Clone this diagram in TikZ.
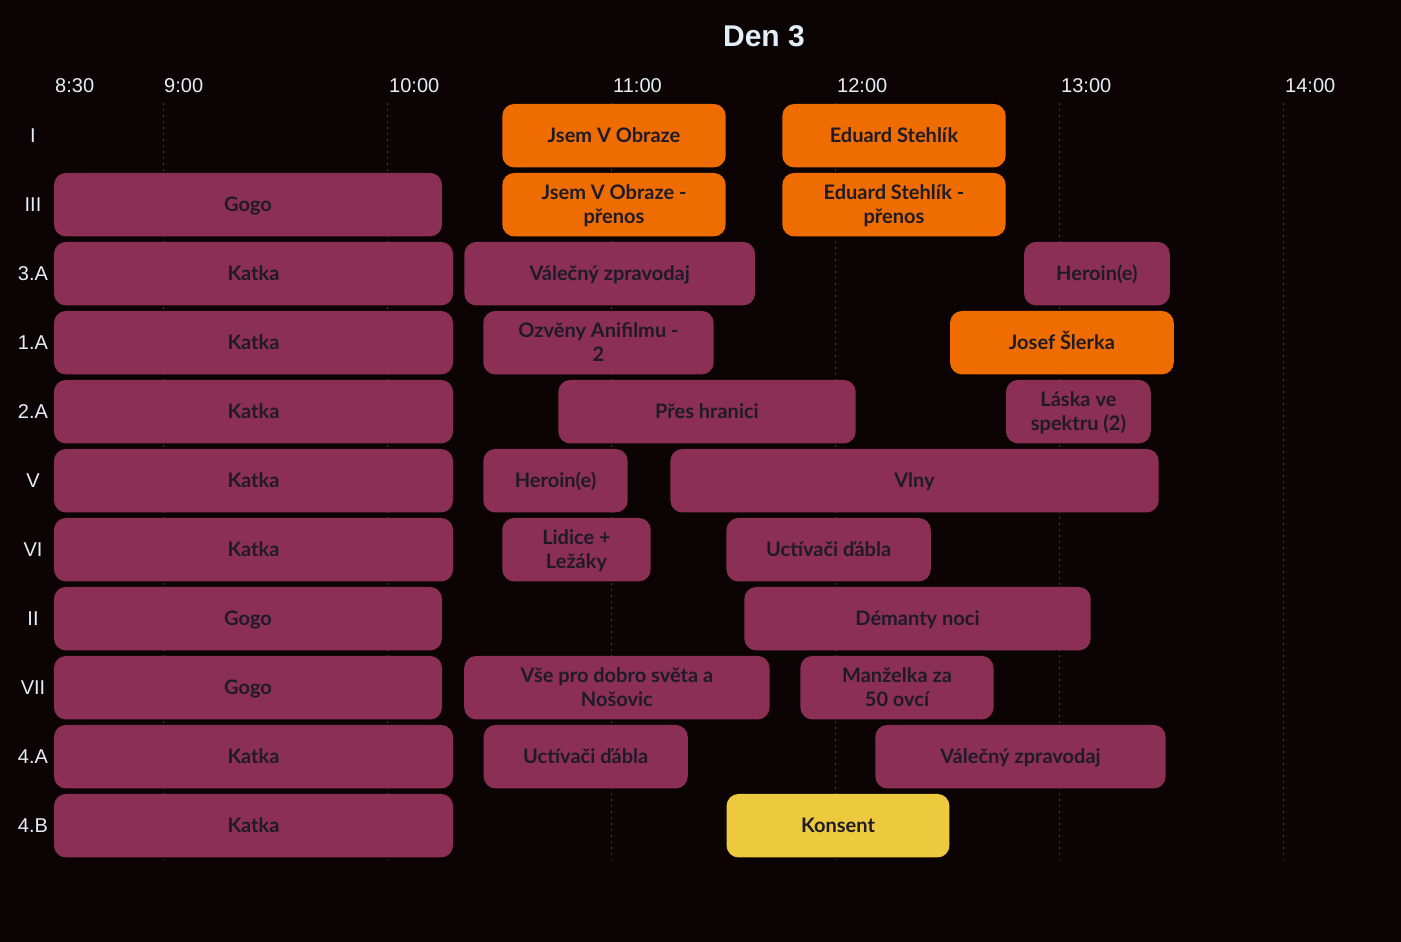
\documentclass[tikz,border=0pt]{standalone}
\usepackage{fontspec}
\setmainfont{Liberation Sans}
\newfontfamily\evfont{Lato}

\definecolor{bg}{HTML}{0C0404}
\definecolor{film}{HTML}{95335C}
\definecolor{live}{HTML}{EF6C00}
\definecolor{guest}{HTML}{EDC93E}
\definecolor{evtext}{HTML}{1E1B26}
\definecolor{label}{HTML}{E4EEF8}
\definecolor{gridred}{HTML}{7A2222}

\tikzset{
	ev/.style={rounded corners=12pt, minimum height=63.5pt, inner sep=0pt, align=center,
		text height=19pt, text depth=5pt,
		text=evtext, font=\evfont\bfseries\fontsize{20}{24}\selectfont},
	twoline/.style={text height=43pt},
	film/.style={ev, fill=film, fill opacity=0.93, text opacity=1},
	live/.style={ev, fill=live},
	guest/.style={ev, fill=guest},
	hall/.style={text=label, font=\fontsize{20}{24}\selectfont},
	tick/.style={hall, anchor=west, inner sep=0pt},
	gridline/.style={gridred, line width=1pt, dash pattern=on 2pt off 4pt},
}

\begin{document}
\begin{tikzpicture}[x=1pt,y=-1pt]
	\def\r{69}    %row pitch
	\def\t{135.7} %first row
	
	%BACKGROUND
	\fill[bg] (0,0) rectangle (1401,942);
	
	%TITLE
	\node[text=label, font=\bfseries\fontsize{30}{36}\selectfont] (title) at (764,36) {Den 3};
	
	%TIME AXIS
	\foreach \x/\l [count=\i] in {55/8:30,164/9:00,389/10:00,613/11:00,837/12:00,1061/13:00,1285/14:00}
		\node[tick] (time\i) at (\x,86) {\l};
	\foreach \x in {163.5,387.5,611.5,835.5,1059.5,1283.5}
		\draw[gridline] (\x,103) -- (\x,860);
	
	%HALLS
	\foreach \h [count=\i from 0] in {I,III,3.A,1.A,2.A,V,VI,II,VII,4.A,4.B}
		\node[hall] (hall\i) at (33,\t+\i*\r) {\h};
	
	%ROW I
	\node[live, minimum width=223.4pt] (jvo) at (614,\t) {Jsem V Obraze};
	\node[live, minimum width=223.4pt] (es) at (894,\t) {Eduard Stehlík};
	%ROW III
	\node[film, minimum width=388pt] (gogoA) at (248,\t+\r) {Gogo};
	\node[live, twoline, minimum width=223.4pt] (jvop) at (614,\t+\r) {Jsem V Obraze -\\přenos};
	\node[live, twoline, minimum width=223.4pt] (esp) at (894,\t+\r) {Eduard Stehlík -\\přenos};
	%ROW 3.A
	\node[film, minimum width=399pt] (katkaA) at (253.5,\t+2*\r) {Katka};
	\node[film, minimum width=290.7pt] (vzA) at (609.7,\t+2*\r) {Válečný zpravodaj};
	\node[film, minimum width=145.7pt] (heroinA) at (1096.9,\t+2*\r) {Heroin(e)};
	%ROW 1.A
	\node[film, minimum width=399pt] (katkaB) at (253.5,\t+3*\r) {Katka};
	\node[film, twoline, minimum width=230.4pt] (ozv) at (598.5,\t+3*\r) {Ozvěny Anifilmu -\\2};
	\node[live, minimum width=223.7pt] (josef) at (1061.9,\t+3*\r) {Josef Šlerka};
	%ROW 2.A
	\node[film, minimum width=399pt] (katkaC) at (253.5,\t+4*\r) {Katka};
	\node[film, minimum width=297.4pt] (pres) at (707,\t+4*\r) {Přes hranici};
	\node[film, twoline, minimum width=144.7pt] (laska) at (1078.4,\t+4*\r) {Láska ve\\spektru (2)};
	%ROW V
	\node[film, minimum width=399pt] (katkaD) at (253.5,\t+5*\r) {Katka};
	\node[film, minimum width=144.4pt] (heroinB) at (555.5,\t+5*\r) {Heroin(e)};
	\node[film, minimum width=488.2pt] (vlny) at (914.5,\t+5*\r) {Vlny};
	%ROW VI
	\node[film, minimum width=399pt] (katkaE) at (253.5,\t+6*\r) {Katka};
	\node[film, twoline, minimum width=148.4pt] (lidice) at (576.5,\t+6*\r) {Lidice +\\Ležáky};
	\node[film, minimum width=204.3pt] (uctA) at (828.6,\t+6*\r) {Uctívači ďábla};
	%ROW II
	\node[film, minimum width=388pt] (gogoB) at (248,\t+7*\r) {Gogo};
	\node[film, minimum width=346.4pt] (dem) at (917.5,\t+7*\r) {Démanty noci};
	%ROW VII
	\node[film, minimum width=388pt] (gogoC) at (248,\t+8*\r) {Gogo};
	\node[film, twoline, minimum width=305.4pt] (vse) at (616.9,\t+8*\r) {Vše pro dobro světa a\\Nošovic};
	\node[film, twoline, minimum width=193.2pt] (manz) at (897,\t+8*\r) {Manželka za\\50 ovcí};
	%ROW 4.A
	\node[film, minimum width=399pt] (katkaF) at (253.5,\t+9*\r) {Katka};
	\node[film, minimum width=204.1pt] (uctB) at (585.7,\t+9*\r) {Uctívači ďábla};
	\node[film, minimum width=290.3pt] (vzB) at (1020.5,\t+9*\r) {Válečný zpravodaj};
	%ROW 4.B
	\node[film, minimum width=399pt] (katkaG) at (253.5,\t+10*\r) {Katka};
	\node[guest, minimum width=222.9pt] (konsent) at (838,\t+10*\r) {Konsent};
\end{tikzpicture}
\end{document}
